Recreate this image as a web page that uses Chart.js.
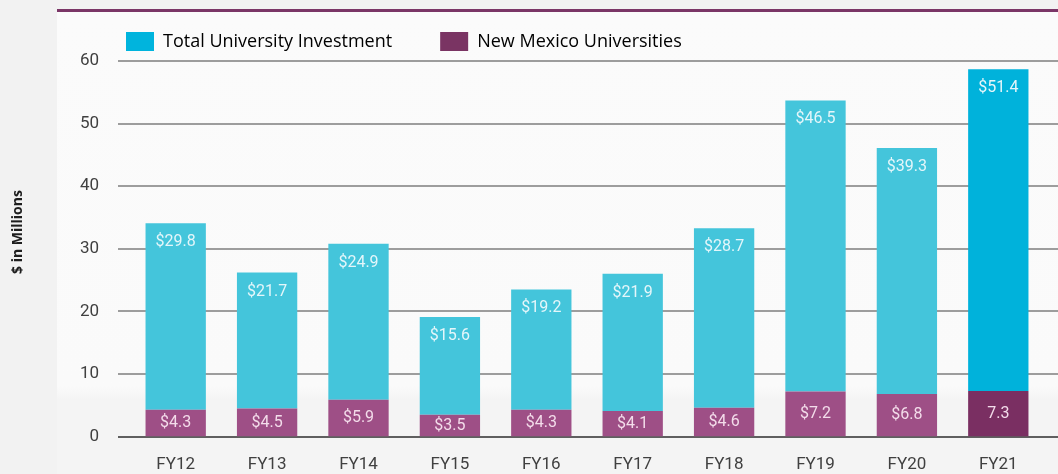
<!DOCTYPE html>
<html>
<head>
<meta charset="utf-8">
<script src="https://cdn.jsdelivr.net/npm/chart.js@4/dist/chart.umd.min.js"></script>
<style>
  html, body { margin: 0; padding: 0; }
  body { width: 1058px; height: 474px; background: #f2f2f2; position: relative; overflow: hidden; }
  #panel {
    position: absolute; left: 57px; top: 9px; right: 0; bottom: 0;
    border-top: 3px solid #7b3667;
    background: linear-gradient(#fbfbfb 0%, #fafafa 81%, #f4f4f4 84%, #f4f4f4 100%);
  }
  #wrap { position: absolute; left: 0; top: 0; width: 1058px; height: 474px; }
</style>
</head>
<body>
<div id="panel"></div>
<div id="wrap"><canvas id="chart"></canvas></div>
<script>
const years = ['FY12', 'FY13', 'FY14', 'FY15', 'FY16', 'FY17', 'FY18', 'FY19', 'FY20', 'FY21']
const totalInvestment = [29.8, 21.7, 24.9, 15.6, 19.2, 21.9, 28.7, 46.5, 39.3, 51.4]
const newMexico = [4.3, 4.5, 5.9, 3.5, 4.3, 4.1, 4.6, 7.2, 6.8, 7.3]
const totalText = ['$29.8', '$21.7', '$24.9', '$15.6', '$19.2', '$21.9', '$28.7', '$46.5', '$39.3', '$51.4']
const newMexicoText = ['$4.3', '$4.5', '$5.9', '$3.5', '$4.3', '$4.1', '$4.6', '$7.2', '$6.8', '7.3']
const yTicks = [0, 10, 20, 30, 40, 50, 60]

// last year is drawn in the stronger shades
const cyan = years.map((y, i) => i === years.length - 1 ? '#00b2db' : '#44c5db')
const purple = years.map((y, i) => i === years.length - 1 ? '#7a2f62' : '#9e4f86')

const tickFont = { family: 'Roboto', size: 17 }

// horizontal lines run past the plot area, like the original
const gridLines = {
  id: 'gridLines',
  beforeDatasetsDraw(chart) {
    const { ctx, scales: { y } } = chart
    ctx.save()
    ctx.lineWidth = 2
    yTicks.forEach(v => {
      const py = Math.round(y.getPixelForValue(v))
      ctx.strokeStyle = v === 0 ? '#5f5f5f' : '#9d9d9d'
      ctx.beginPath()
      ctx.moveTo(118, py)
      ctx.lineTo(chart.width, py)
      ctx.stroke()
    })
    ctx.restore()
  }
}

const barLabels = {
  id: 'barLabels',
  afterDatasetsDraw(chart) {
    const { ctx } = chart
    ctx.save()
    ctx.font = '16px Roboto'
    ctx.textAlign = 'center'
    ctx.textBaseline = 'middle'
    chart.data.datasets.forEach((ds, di) => {
      chart.getDatasetMeta(di).data.forEach((bar, i) => {
        if (di === 0) {
          ctx.fillStyle = '#f3dcea'
          ctx.fillText(newMexicoText[i], bar.x, (bar.y + bar.base) / 2)
        } else {
          ctx.fillStyle = '#e4f6fa'
          ctx.fillText(totalText[i], bar.x, bar.y + 19)
        }
      })
    })
    ctx.restore()
  }
}

const axisTitle = {
  id: 'axisTitle',
  afterDraw(chart) {
    const { ctx } = chart
    ctx.save()
    ctx.translate(18, 232)
    ctx.rotate(-Math.PI / 2)
    ctx.font = 'bold 14px "Open Sans"'
    ctx.fillStyle = '#1e1e1e'
    ctx.textAlign = 'center'
    ctx.textBaseline = 'middle'
    ctx.fillText('$ in Millions', 0, 0)
    ctx.restore()
  }
}

new Chart(document.getElementById('chart'), {
  type: 'bar',
  data: {
    labels: years,
    datasets: [
      { label: 'New Mexico Universities', data: newMexico, backgroundColor: purple, borderWidth: 0 },
      { label: 'Total University Investment', data: totalInvestment, backgroundColor: cyan, borderWidth: 0 }
    ]
  },
  options: {
    responsive: true,
    maintainAspectRatio: false,
    animation: false,
    barPercentage: 0.66,
    categoryPercentage: 1,
    layout: { padding: { left: 78, right: 14, top: -16, bottom: -19 } },
    plugins: {
      legend: {
        position: 'top',
        align: 'start',
        reverse: true,
        labels: {
          boxWidth: 28,
          boxHeight: 19,
          padding: 48,
          color: '#1c1c1c',
          font: { family: 'Open Sans', size: 18 },
          generateLabels(chart) {
            const fills = ['#7a3463', '#00b4dd']
            return chart.data.datasets.map((ds, i) => ({
              text: ds.label, fillStyle: fills[i], strokeStyle: fills[i], lineWidth: 0, datasetIndex: i
            }))
          }
        }
      },
      tooltip: { enabled: false }
    },
    scales: {
      x: {
        stacked: true,
        grid: { display: false, drawTicks: false },
        border: { display: false },
        ticks: { color: '#404040', font: tickFont, padding: 18 }
      },
      y: {
        stacked: true,
        min: 0,
        max: 60,
        afterFit(scale) {
          scale.width = 52
          scale.paddingTop = 0
          scale.paddingBottom = 0
        },
        afterBuildTicks(scale) { scale.ticks = yTicks.map(v => ({ value: v })) },
        grid: { display: false, drawTicks: false },
        border: { display: false },
        ticks: { color: '#404040', font: tickFont, padding: 31 }
      }
    }
  },
  plugins: [gridLines, barLabels, axisTitle]
})
</script>
</body>
</html>
